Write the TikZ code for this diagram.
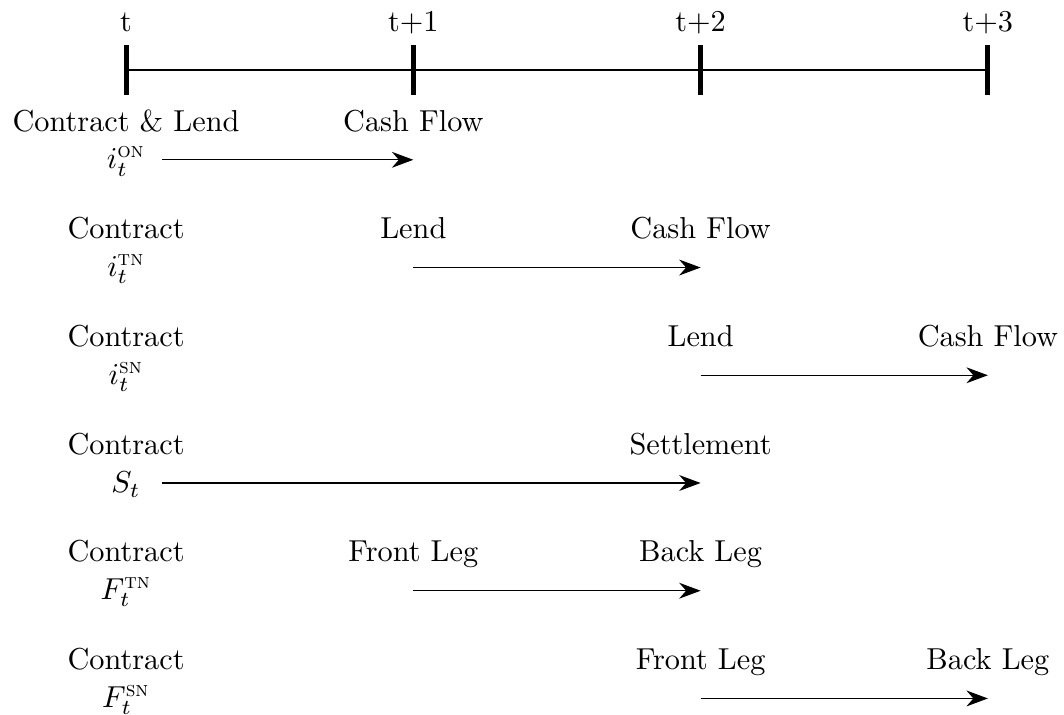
\documentclass[tikz,border=0pt]{standalone}
\usepackage{amsmath}
\usetikzlibrary{arrows.meta,calc}
\begin{document}
\begin{tikzpicture}[
  tickmark/.style={line width=2pt},
  timeline/.style={line width=0.45pt},
  flow/.style={line width=0.5pt,-{Stealth[length=8.5pt,width=6.3pt]}},
  lbl/.style={anchor=base,inner sep=0pt,scale=1.2},
  mth/.style={inner sep=0pt,scale=1.2}
]
\useasboundingbox (-1.755,0.975) rectangle (13.06,-8.98);
% time line
\coordinate (T0) at (0,0);
\coordinate (T1) at (4,0);
\coordinate (T2) at (8,0);
\coordinate (T3) at (12,0);
\draw[timeline] (T0) -- (T3);
\foreach \i/\lab in {0/t,1/t+1,2/t+2,3/t+3}{
  \draw[tickmark] ($(T\i)+(0,-0.35)$) -- ($(T\i)+(0,0.35)$);
  \node[lbl] (L\i) at ($(T\i)+(0,0.53)$) {\lab};
}
% row 1
\node[lbl] (c1) at (0,-0.85) {Contract \& Lend};
\node[mth] (m1) at (0,-1.27) {$i_t^{\textsc{on}}$};
\coordinate (s1) at (0.5,-1.25);
\coordinate (e1) at (4,-1.25);
\node[lbl] (b1) at (4,-0.85) {Cash Flow};
\draw[flow] (s1) -- (e1);
% row 2
\node[lbl] (c2) at (0,-2.35) {Contract};
\node[mth] (m2) at (0,-2.77) {$i_t^{\textsc{tn}}$};
\coordinate (s2) at (4,-2.75);
\coordinate (e2) at (8,-2.75);
\node[lbl] (a2) at (4,-2.35) {Lend};
\node[lbl] (b2) at (8,-2.35) {Cash Flow};
\draw[flow] (s2) -- (e2);
% row 3
\node[lbl] (c3) at (0,-3.85) {Contract};
\node[mth] (m3) at (0,-4.27) {$i_t^{\textsc{sn}}$};
\coordinate (s3) at (8,-4.25);
\coordinate (e3) at (12,-4.25);
\node[lbl] (a3) at (8,-3.85) {Lend};
\node[lbl] (b3) at (12,-3.85) {Cash Flow};
\draw[flow] (s3) -- (e3);
% row 4
\node[lbl] (c4) at (0,-5.35) {Contract};
\node[mth] (m4) at (0,-5.77) {$S_t$};
\coordinate (s4) at (0.5,-5.75);
\coordinate (e4) at (8,-5.75);
\node[lbl] (b4) at (8,-5.35) {Settlement};
\draw[flow] (s4) -- (e4);
% row 5
\node[lbl] (c5) at (0,-6.85) {Contract};
\node[mth] (m5) at (0,-7.27) {$F_t^{\textsc{tn}}$};
\coordinate (s5) at (4,-7.25);
\coordinate (e5) at (8,-7.25);
\node[lbl] (a5) at (4,-6.85) {Front Leg};
\node[lbl] (b5) at (8,-6.85) {Back Leg};
\draw[flow] (s5) -- (e5);
% row 6
\node[lbl] (c6) at (0,-8.35) {Contract};
\node[mth] (m6) at (0,-8.77) {$F_t^{\textsc{sn}}$};
\coordinate (s6) at (8,-8.75);
\coordinate (e6) at (12,-8.75);
\node[lbl] (a6) at (8,-8.35) {Front Leg};
\node[lbl] (b6) at (12,-8.35) {Back Leg};
\draw[flow] (s6) -- (e6);
\end{tikzpicture}
\end{document}
